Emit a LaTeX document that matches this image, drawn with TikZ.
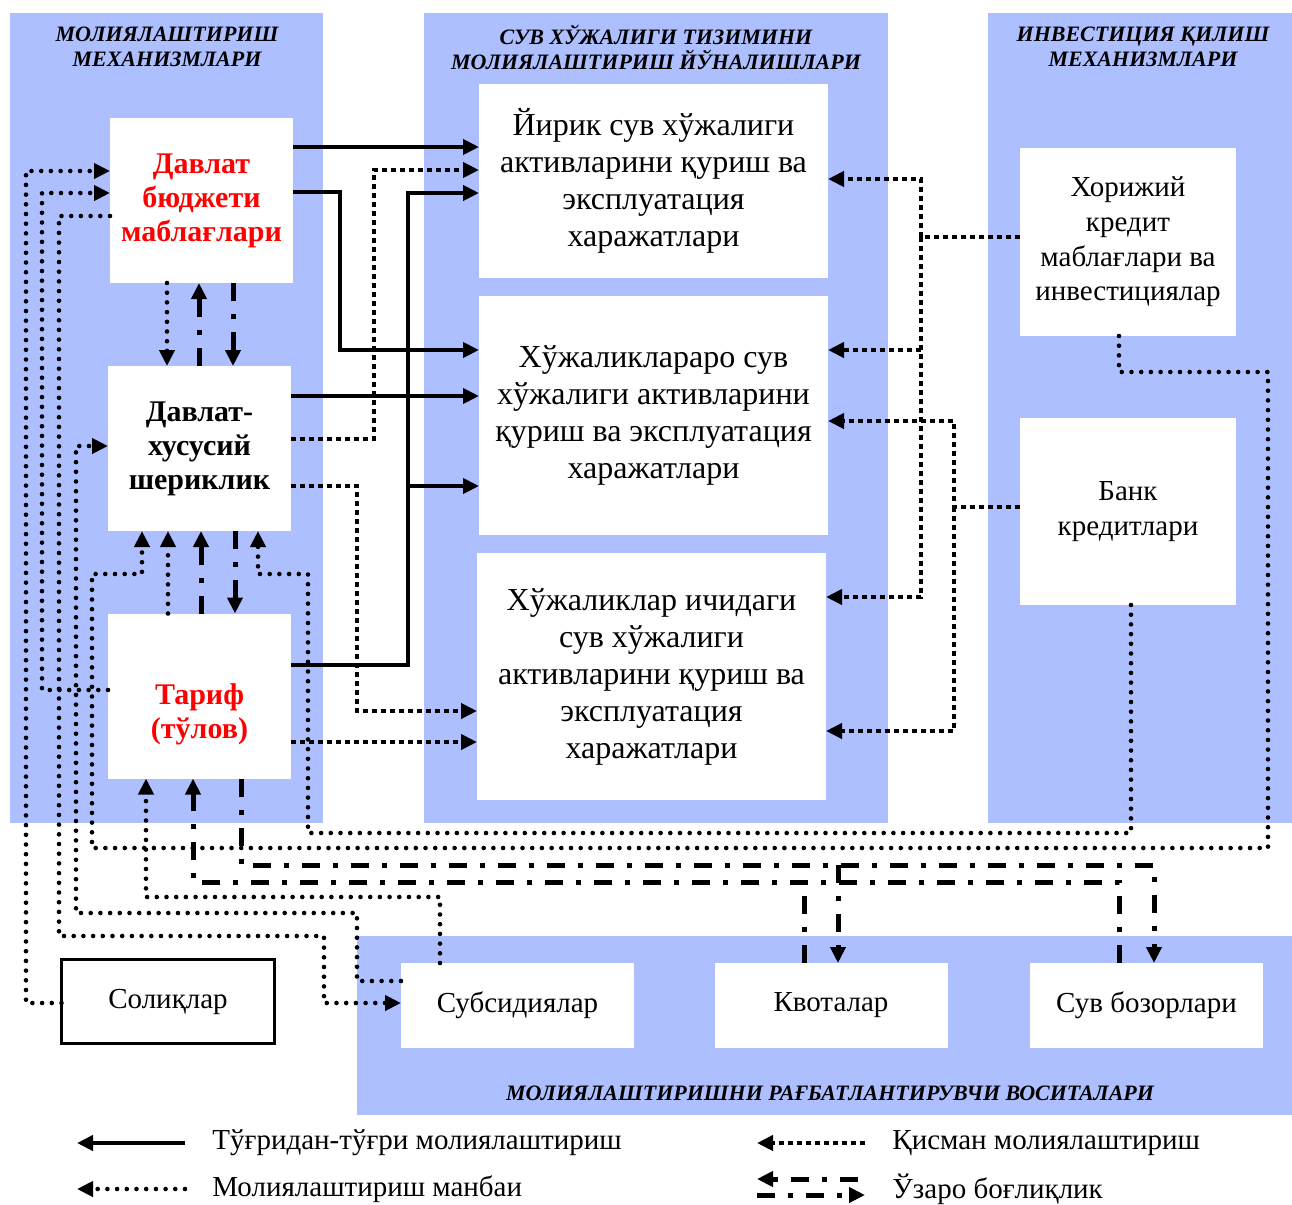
\documentclass[tikz,border=0pt]{standalone}
\usepackage{fontspec}
\setmainfont{Liberation Serif}
\usetikzlibrary{arrows.meta}
\usetikzlibrary{calc}
\definecolor{panelblue}{RGB}{173,191,255}
\tikzset{
    panel/.style = {fill=panelblue,draw=none},
    paneltitle/.style = {align=center,inner sep=0pt,font=\fontsize{11}{12.5}\selectfont\bfseries\itshape},
    srcbox/.style = {rectangle,fill=white,inner sep=0pt,outer sep=0pt,minimum width=91.5pt,minimum height=82.5pt,align=center,font=\fontsize{15}{17}\selectfont\bfseries},
    dirbox/.style = {rectangle,fill=white,inner sep=0pt,outer sep=0pt,minimum width=174.5pt,align=center,font=\fontsize{16}{18.5}\selectfont},
    invbox/.style = {rectangle,fill=white,inner sep=0pt,outer sep=0pt,minimum width=108pt,align=center,font=\fontsize{14.5}{17.3}\selectfont},
    toolbox/.style = {rectangle,fill=white,inner sep=0pt,outer sep=0pt,minimum width=116.5pt,minimum height=42.5pt,font=\fontsize{14.5}{17}\selectfont},
    legtext/.style = {anchor=west,inner sep=0pt,font=\fontsize{14.5}{17}\selectfont},
    arrowtip/.style = {-{Triangle[length=8pt,width=7.5pt]}},
    edged/.style = {arrowtip,line width=2pt}, % direct
    edgep/.style = {arrowtip,line width=2pt,dash pattern=on 2.3pt off 2.2pt}, % partial
    edges/.style = {arrowtip,line width=2.3pt,line cap=round,dash pattern=on 0pt off 4.85pt}, % source
    edgem/.style = {arrowtip,line width=2.5pt,dash pattern=on 9pt off 6.5pt on 2.5pt off 6.5pt} % mutual
}

\begin{document}
\begin{tikzpicture}[x=0.5pt,y=-0.5pt]
\useasboundingbox (0,0) rectangle (1292,1205);
%
\fill[panel] (10,13) rectangle (323,823);
\fill[panel] (424,13) rectangle (888,823);
\fill[panel] (988,13) rectangle (1292,823);
\fill[panel] (357,936) rectangle (1292,1115);
%
\node[paneltitle] at (167,47) (t1) {МОЛИЯЛАШТИРИШ\\МЕХАНИЗМЛАРИ};
\node[paneltitle] at (656,47) (t2) {СУВ ХЎЖАЛИГИ ТИЗИМИНИ\\МОЛИЯЛАШТИРИШ ЙЎНАЛИШЛАРИ};
\node[paneltitle] at (1143,47) (t3) {ИНВЕСТИЦИЯ ҚИЛИШ\\МЕХАНИЗМЛАРИ};
\node[paneltitle] at (830,1093) (t4) {МОЛИЯЛАШТИРИШНИ РАҒБАТЛАНТИРУВЧИ ВОСИТАЛАРИ};
%
\node[srcbox,text=red] at (201.5,200.5) (budget) {Давлат\\бюджети\\маблағлари};
\node[srcbox] at (199.5,448.5) (ppp) {Давлат-\\хусусий\\шериклик};
\node[srcbox,text=red,label={[align=center,yshift=-9pt,text=red,font=\fontsize{15}{17}\selectfont\bfseries]center:Тариф\\(тўлов)}] at (199.5,696) (tariff) {};
%
\node[dirbox,minimum height=97pt] at (653.5,181) (dirA) {Йирик сув хўжалиги\\активларини қуриш ва\\эксплуатация\\харажатлари};
\node[dirbox,minimum height=119.5pt] at (653.5,415.5) (dirB) {Хўжаликлараро сув\\хўжалиги активларини\\қуриш ва эксплуатация\\харажатлари};
\node[dirbox,minimum height=123.5pt] at (651.5,676.5) (dirC) {Хўжаликлар ичидаги\\сув хўжалиги\\активларини қуриш ва\\эксплуатация\\харажатлари};
%
\node[invbox,minimum height=94pt] at (1128,242) (foreign) {Хорижий\\кредит\\маблағлари ва\\инвестициялар};
\node[invbox,minimum height=93.5pt] at (1128,511.5) (bank) {Банк\\кредитлари};
%
\node[toolbox,draw=black,line width=1.5pt,minimum width=106.5pt,minimum height=42pt] at (168,1001.5) (taxes) {Солиқлар};
\node[toolbox] at (517.5,1005.5) (subsidy) {Субсидиялар};
\node[toolbox] at (831,1005.5) (quota) {Квоталар};
\node[toolbox] at (1146.5,1005.5) (market) {Сув бозорлари};
%
% direct financing
\draw[edged] (budget.east |- 0,147) -- (dirA.west |- 0,147);
\draw[edged] (budget.east |- 0,192) -| (340,350) -- (dirB.west |- 0,350);
\draw[edged] (ppp.east |- 0,396) -- (dirB.west |- 0,396);
\draw[edged] (tariff.east |- 0,665) -| (408,193) -- (dirA.west |- 0,193);
\coordinate (tb) at (408,486);
\draw[edged] (tb) -- (dirB.west |- tb);
%
% partial financing
\draw[edgep] (ppp.east |- 0,439) -| (374,170) -- (dirA.west |- 0,170);
\draw[edgep] (ppp.east |- 0,486) -| (357,711) -- (dirC.west |- 0,711);
\draw[edgep] (tariff.east |- 0,742) -- (dirC.west |- 0,742);
\draw[edgep] (foreign.west |- 0,237) -| (921,179) -- (dirA.east |- 0,179);
\coordinate (fj) at (921,237);
\draw[edgep] (fj) |- (dirC.east |- 0,597);
\draw[edgep] (fj |- 0,350) -- (dirB.east |- 0,350);
\draw[edgep] (bank.west |- 0,507) -| (954,421) -- (dirB.east |- 0,421);
\coordinate (bj) at (954,507);
\draw[edgep] (bj) |- (dirC.east |- 0,731);
%
% sources
\draw[edges] (taxes.west |- 0,1003) -| (26,171) -- (budget.west |- 0,171);
\draw[edges] (tariff.west |- 0,690) -| (42,193) -- (budget.west |- 0,193);
\draw[edges] (budget.west |- 0,216) -| (59,936) -| (324,1003) -- (subsidy.west |- 0,1003);
\draw[edges] (subsidy.west |- 0,981) -| (357,913) -| (76,446) -- (ppp.west |- 0,446);
\draw[edges] (subsidy.north -| 440,0) |- (146,897) -- (tariff.south -| 146,0);
\draw[edges] (foreign.south -| 1119,0) |- (1268,372) |- (92,848) |- (142,574) -- (ppp.south -| 142,0);
\draw[edges] (bank.south -| 1131,0) |- (308,833) |- (258,574) -- (ppp.south -| 258,0);
\draw[edges] (budget.south -| 167,0) -- (ppp.north -| 167,0);
\draw[edges] (tariff.north -| 168,0) -- (ppp.south -| 168,0);
%
% mutual links
\draw[edgem] (ppp.north -| 199,0) -- (budget.south -| 199,0);
\draw[edgem] (budget.south -| 233,0) -- (ppp.north -| 233,0);
\draw[edgem] (tariff.north -| 201,0) -- (ppp.south -| 201,0);
\draw[edgem] (ppp.south -| 235,0) -- (tariff.north -| 235,0);
\draw[edgem] (tariff.south -| 241,0) |- (1154,865) -- (market.north -| 1154,0);
\coordinate (qa) at (838,865);
\draw[edgem] (qa) -- (quota.north -| qa);
\draw[edgem] (market.north -| 1119,0) |- (193,882) -- (tariff.south -| 193,0);
\coordinate (qb) at (804,882);
\draw[edgem,-] (quota.north -| qb) -- (qb);
%
% legend
\node[legtext] at (212,1143) (l1) {Тўғридан-тўғри молиялаштириш};
\node[legtext] at (212,1189) (l2) {Молиялаштириш манбаи};
\node[legtext] at (892,1143) (l3) {Қисман молиялаштириш};
\node[legtext] at (892,1189) (l4) {Ўзаро боғлиқлик};
\draw[edged] ([xshift=-13.5pt]l1.west) -- ([xshift=-67.5pt]l1.west);
\draw[edges] ([xshift=-13.5pt]l2.west) -- ([xshift=-67.5pt]l2.west);
\draw[edgep] ([xshift=-13.5pt]l3.west) -- ([xshift=-67.5pt]l3.west);
\draw[edgem] ([xshift=-17pt,yshift=5pt]l4.west) -- ([xshift=-67.5pt,yshift=5pt]l4.west);
\draw[edgem] ([xshift=-67.5pt,yshift=-3pt]l4.west) -- ([xshift=-13.5pt,yshift=-3pt]l4.west);

\end{tikzpicture}
\end{document}
